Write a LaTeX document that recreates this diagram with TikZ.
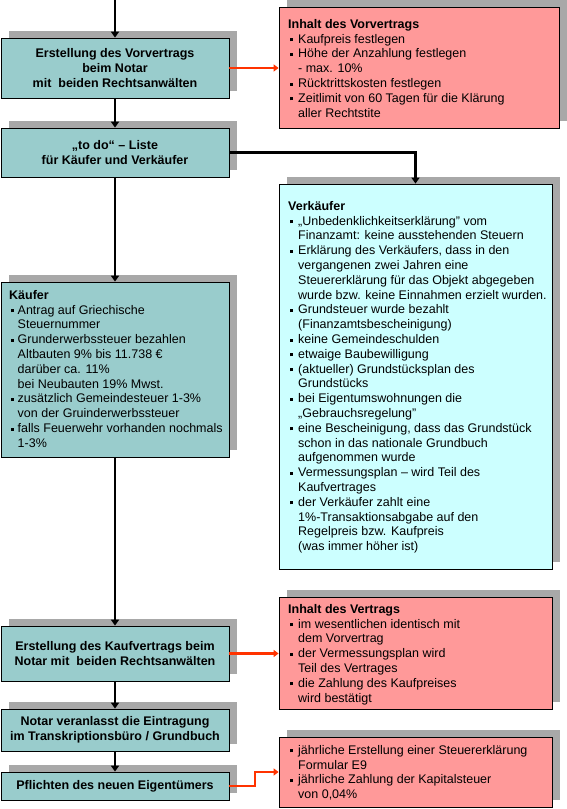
\documentclass[tikz,border=0pt]{standalone}
\usepackage{fontspec}
\setmainfont{Liberation Sans}
\usetikzlibrary{arrows.meta,shadows}
\definecolor{tealbox}{HTML}{99CCCC}
\definecolor{rosabox}{HTML}{FF9999}
\definecolor{cyanbox}{HTML}{CCFFFF}
\definecolor{redarr}{HTML}{FF3300}
\definecolor{shadec}{HTML}{A8A8A8}
\newcommand{\bul}[1][10pt]{\makebox[#1][l]{\hspace{1.5pt}\raisebox{1.8pt}{\rule{3pt}{3pt}}}}
\newcommand{\ind}[1][10pt]{\makebox[#1]{}}
\begin{document}
\begin{tikzpicture}[x=1pt,y=-1pt,
  box/.style={draw=black,line width=0.8pt,rectangle,inner sep=0pt,
    drop shadow={shadow xshift=8pt,shadow yshift=7pt,fill=shadec,opacity=1}},
  tealb/.style={box,fill=tealbox,font=\bfseries\fontsize{12.5}{14.8}\selectfont,align=center,minimum width=228pt},
  rosab/.style={box,fill=rosabox},
  cyanb/.style={box,fill=cyanbox},
  tx/.style={font=\fontsize{12.5}{14.8}\selectfont,align=left,anchor=north west,inner sep=0pt},
  conn/.style={line width=2.6pt,-{Triangle[length=6pt,width=8pt]}},
  rconn/.style={draw=redarr,line width=2.4pt,-{Triangle[length=5pt,width=7pt]}}]
\useasboundingbox (0,0) rectangle (567,809);

% left column
\node[tealb,minimum height=60pt] (v1) at (115,68) {Erstellung des Vorvertrags\\beim Notar\\mit\ \ beiden Rechtsanwälten};
\node[tealb,minimum height=49pt] (todo) at (115,152.5) {„to do“ – Liste\\für Käufer und Verkäufer};
\node[tealb,minimum height=175pt] (kaeufer) at (115,369.5) {};
\node[tealb,minimum height=55pt] (kv) at (115,653.5) {Erstellung des Kaufvertrags beim\\Notar mit\ \ beiden Rechtsanwälten};
\node[tealb,minimum height=42pt] (notar) at (115,730) {Notar veranlasst die Eintragung\\im Transkriptionsbüro / Grundbuch};
\node[tealb,minimum height=28pt] (pfl) at (115,786) {Pflichten des neuen Eigentümers};

% right column
\node[rosab,minimum width=280pt,minimum height=121pt] (r1) at (419,67.5) {};
\node[cyanb,minimum width=273pt,minimum height=385pt] (verk) at (415.5,376.5) {};
\node[rosab,minimum width=273pt,minimum height=112pt] (r2) at (415.5,653) {};
\node[rosab,minimum width=273pt,minimum height=70pt] (r3) at (415.5,772) {};

% texts
\node[tx] (kt) at (9,290) {\textbf{Käufer}\\
\bul[8.5pt]Antrag auf Griechische\\
\ind[8.5pt]Steuernummer\\
\bul[8.5pt]Grunderwerbssteuer bezahlen\\
\ind[8.5pt]Altbauten 9\% bis 11.738 €\\
\ind[8.5pt]darüber ca. 11\%\\
\ind[8.5pt]bei Neubauten 19\% Mwst.\\
\bul[8.5pt]zusätzlich Gemeindesteuer 1-3\%\\
\ind[8.5pt]von der Gruinderwerbssteuer\\
\bul[8.5pt]falls Feuerwehr vorhanden nochmals\\
\ind[8.5pt]1-3\%};

\node[tx] (r1t) at (288,19) {\textbf{Inhalt des Vorvertrags}\\
\bul Kaufpreis festlegen\\
\bul Höhe der Anzahlung festlegen\\
\ind - max. 10\%\\
\bul Rücktrittskosten festlegen\\
\bul Zeitlimit von 60 Tagen für die Klärung\\
\ind aller Rechtstite};

\node[tx] (vt) at (288,201) {\textbf{Verkäufer}\\
\bul„Unbedenklichkeitserklärung" vom\\
\ind Finanzamt: keine ausstehenden Steuern\\
\bul Erklärung des Verkäufers, dass in den\\
\ind vergangenen zwei Jahren eine\\
\ind Steuererklärung für das Objekt abgegeben\\
\ind wurde bzw. keine Einnahmen erzielt wurden.\\
\bul Grundsteuer wurde bezahlt\\
\ind(Finanzamtsbescheinigung)\\
\bul keine Gemeindeschulden\\
\bul etwaige Baubewilligung\\
\bul(aktueller) Grundstücksplan des\\
\ind Grundstücks\\
\bul bei Eigentumswohnungen die\\
\ind„Gebrauchsregelung"\\
\bul eine Bescheinigung, dass das Grundstück\\
\ind schon in das nationale Grundbuch\\
\ind aufgenommen wurde\\
\bul Vermessungsplan – wird Teil des\\
\ind Kaufvertrages\\
\bul der Verkäufer zahlt eine\\
\ind 1\%-Transaktionsabgabe auf den\\
\ind Regelpreis bzw. Kaufpreis\\
\ind(was immer höher ist)};

\node[tx] (r2t) at (288,604) {\textbf{Inhalt des Vertrags}\\
\bul im wesentlichen identisch mit\\
\ind dem Vorvertrag\\
\bul der Vermessungsplan wird\\
\ind Teil des Vertrages\\
\bul die Zahlung des Kaufpreises\\
\ind wird bestätigt};

\node[tx] (r3t) at (288,745) {\bul jährliche Erstellung einer Steuererklärung\\
\ind Formular E9\\
\bul jährliche Zahlung der Kapitalsteuer\\
\ind von 0,04\%};

% connectors
\coordinate (top) at (115,0);
\draw[conn] (top) -- (v1.north);
\draw[conn] (v1.south) -- (todo.north);
\draw[conn] (todo.south) -- (kaeufer.north);
\draw[conn] (kaeufer.south) -- (kv.north);
\draw[conn] (kv.south) -- (notar.north);
\draw[conn] (notar.south) -- (pfl.north);
\draw[conn] (todo.east) -| (verk.north);

\draw[rconn] (v1.east) -- (v1.east -| r1.west);
\draw[rconn] (kv.east) -- (kv.east -| r2.west);
\coordinate (elbow) at (255,786);
\draw[rconn] (pfl.east) -- (elbow) |- (r3.west);
\end{tikzpicture}
\end{document}
